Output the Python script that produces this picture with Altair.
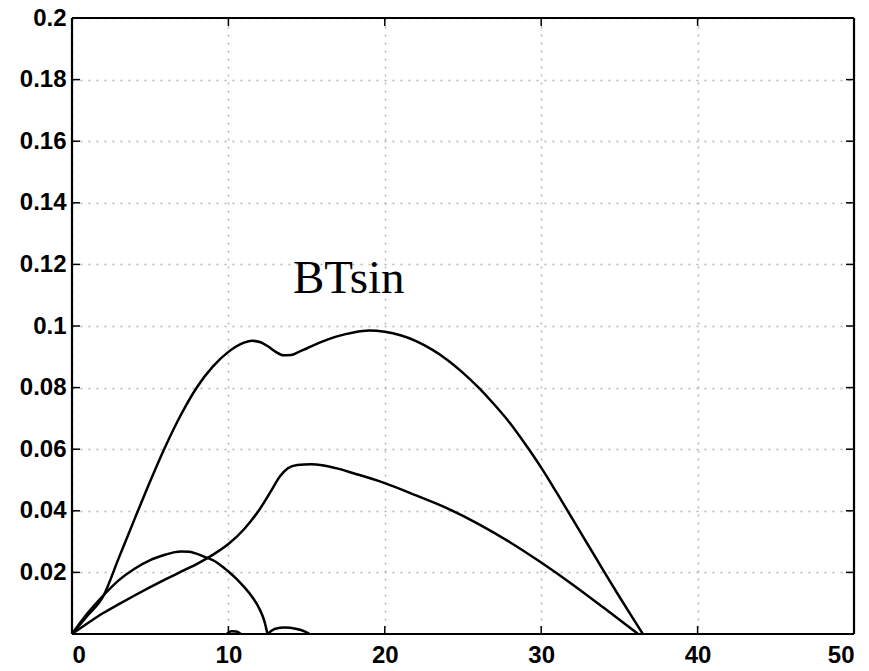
import altair as alt
import pandas as pd

# Curve samples (x, value)
upper_x = [0, 1, 2, 3, 4, 5, 6, 7, 8, 9, 10, 11, 11.5, 12, 12.5, 13, 13.5, 14,
           14.5, 15, 16, 17, 18, 19, 20, 21, 22, 23, 24, 25, 26, 27, 28, 29, 30,
           31, 32, 33, 34, 35, 36, 36.5]
upper_y = [0, 0.006, 0.0123, 0.0248, 0.0373, 0.0496, 0.0612, 0.0715, 0.0802,
           0.0868, 0.0916, 0.0946, 0.0952, 0.0948, 0.0935, 0.0917, 0.0905,
           0.0906, 0.0916, 0.0927, 0.0949, 0.0967, 0.0979, 0.0985, 0.0981,
           0.0970, 0.0951, 0.0924, 0.0890, 0.0848, 0.0800, 0.0745, 0.0685,
           0.0615, 0.0540, 0.0458, 0.0374, 0.0289, 0.0204, 0.0121, 0.0040, 0]

middle_x = [0, 1, 2, 3, 4, 5, 6, 7, 8, 9, 10, 11, 12, 12.7, 13.3, 13.8, 14.4,
            15.3, 16, 17, 18, 20, 22, 24, 26, 28, 30, 32, 34, 36.2]
middle_y = [0, 0.0035, 0.0068, 0.0097, 0.0125, 0.0152, 0.0178, 0.0203, 0.0228,
            0.0257, 0.0292, 0.0340, 0.0405, 0.0462, 0.0512, 0.0538, 0.0549,
            0.0551, 0.0548, 0.0537, 0.0522, 0.0490, 0.0450, 0.0408, 0.0357,
            0.0298, 0.0232, 0.0161, 0.0085, 0]

hump_x = [0, 1, 2, 3, 4, 5, 6, 6.5, 7, 7.5, 8, 8.6, 9, 10, 10.5, 11, 11.5, 12,
          12.3, 12.5]
hump_y = [0, 0.0068, 0.0125, 0.0175, 0.0212, 0.0240, 0.0258, 0.0265, 0.0268,
          0.0267, 0.0260, 0.0248, 0.0240, 0.0203, 0.0180, 0.0153, 0.0122,
          0.0080, 0.0042, 0]

small_a_x = [9.9, 10.2, 10.5, 10.8]
small_a_y = [0, 0.0009, 0.0008, 0]

small_b_x = [12.5, 13, 13.6, 14.3, 14.9, 15.2]
small_b_y = [0, 0.0017, 0.0021, 0.0017, 0.0008, 0]

x_ticks = [0, 10, 20, 30, 40, 50]
y_ticks = [0, 0.02, 0.04, 0.06, 0.08, 0.1, 0.12, 0.14, 0.16, 0.18, 0.2]
y_labels = [0.02, 0.04, 0.06, 0.08, 0.1, 0.12, 0.14, 0.16, 0.18, 0.2]

label_text = ["BTsin"]
label_x = [14.13]
label_y = [0.1106]

W, H = 782, 616
TICK = 8

frames = []
for name, xs, ys in [("upper", upper_x, upper_y), ("middle", middle_x, middle_y),
                     ("hump", hump_x, hump_y), ("small_a", small_a_x, small_a_y),
                     ("small_b", small_b_x, small_b_y)]:
    frames.append(pd.DataFrame({"series": name, "x": xs, "y": ys}))
curves = pd.concat(frames, ignore_index=True)

xs = alt.Scale(domain=[0, 50], nice=False, zero=False)
ys = alt.Scale(domain=[0, 0.2], nice=False, zero=False)

grid_style = dict(grid=True, gridColor="#b4b4b4", gridDash=[2, 6], gridWidth=1.4,
                  domain=False, ticks=False, title=None,
                  labelFont="Liberation Sans", labelFontWeight="bold",
                  labelFontSize=24, labelColor="black")

lines = alt.Chart(curves).mark_line(
    color="black", strokeWidth=2.5, interpolate="monotone"
).encode(
    x=alt.X("x:Q", scale=xs,
            axis=alt.Axis(values=x_ticks, format="d", labelPadding=9, **grid_style)),
    y=alt.Y("y:Q", scale=ys,
            axis=alt.Axis(values=y_labels, format="~g", labelPadding=6, **grid_style)),
    detail="series:N",
)

xt = pd.DataFrame({"x": x_ticks})
yt = pd.DataFrame({"y": y_ticks})

tick_bottom = alt.Chart(xt).mark_rule(color="black", strokeWidth=1.5).encode(
    x=alt.X("x:Q", scale=xs), y=alt.value(H), y2=alt.value(H - TICK))
tick_top = alt.Chart(xt).mark_rule(color="black", strokeWidth=1.5).encode(
    x=alt.X("x:Q", scale=xs), y=alt.value(0), y2=alt.value(TICK))
tick_left = alt.Chart(yt).mark_rule(color="black", strokeWidth=1.5).encode(
    y=alt.Y("y:Q", scale=ys), x=alt.value(0), x2=alt.value(TICK))
tick_right = alt.Chart(yt).mark_rule(color="black", strokeWidth=1.5).encode(
    y=alt.Y("y:Q", scale=ys), x=alt.value(W), x2=alt.value(W - TICK))

# Box frame drawn above the grid
box = alt.Chart(pd.DataFrame({"k": [0]}))
frame_top = box.mark_rule(color="black", strokeWidth=2.2).encode(
    x=alt.value(0), x2=alt.value(W), y=alt.value(0))
frame_bottom = box.mark_rule(color="black", strokeWidth=2.2).encode(
    x=alt.value(0), x2=alt.value(W), y=alt.value(H))
frame_left = box.mark_rule(color="black", strokeWidth=2.2).encode(
    y=alt.value(0), y2=alt.value(H), x=alt.value(0))
frame_right = box.mark_rule(color="black", strokeWidth=2.2).encode(
    y=alt.value(0), y2=alt.value(H), x=alt.value(W))

label_df = pd.DataFrame({"text": label_text, "x": label_x, "y": label_y})
label = alt.Chart(label_df).mark_text(
    font="Liberation Serif", fontSize=47, color="black",
    align="left", baseline="alphabetic"
).encode(x=alt.X("x:Q", scale=xs), y=alt.Y("y:Q", scale=ys), text="text:N")

chart = alt.layer(
    lines, tick_bottom, tick_top, tick_left, tick_right,
    frame_top, frame_bottom, frame_left, frame_right, label
).properties(
    width=W, height=H,
    autosize=alt.AutoSizeParams(type="none"),
    padding={"left": 72, "top": 18, "right": 15, "bottom": 37},
    background="white",
).configure_view(stroke=None)

chart.save("out.html", embed_options={"renderer": "svg", "actions": False})
